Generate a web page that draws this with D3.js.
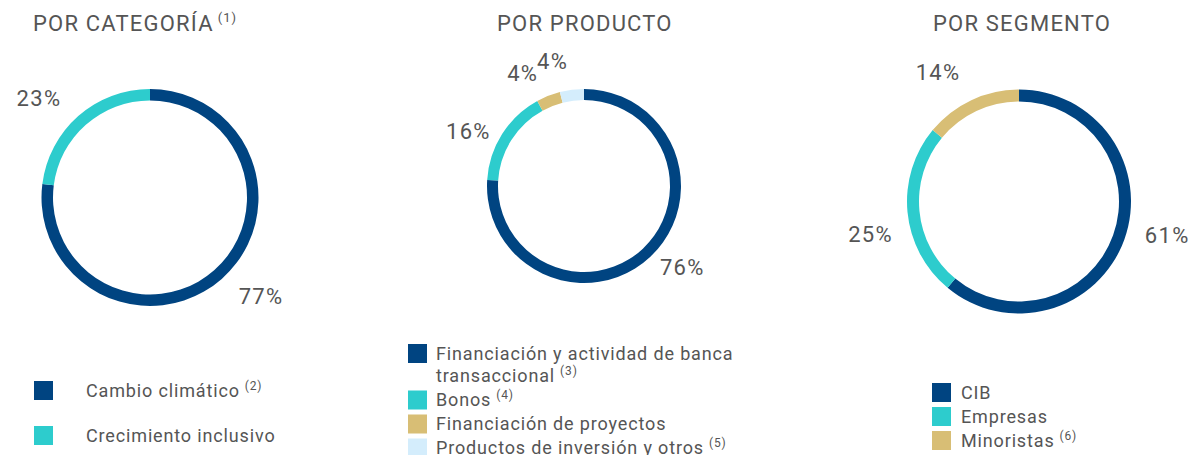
<!DOCTYPE html>
<html>
<head>
<meta charset="utf-8">
<script src="https://cdn.jsdelivr.net/npm/d3@7"></script>
<style>
  html, body { margin: 0; padding: 0; background: #fff; }
  svg { display: block; font-family: Roboto, "Noto Sans", sans-serif; }
</style>
</head>
<body>
<svg id="chart" width="1192" height="455"></svg>
<script>
// ---- data ----
const titles = ["POR CATEGORÍA", "POR PRODUCTO", "POR SEGMENTO"];
const titleNotes = ["(1)", "", ""];

const categoriaLabels = ["Cambio climático", "Crecimiento inclusivo"];
const categoriaNotes = ["(2)", ""];
const categoriaValues = [77, 23];

const productoLabels = ["Financiación y actividad de banca transaccional", "Bonos", "Financiación de proyectos", "Productos de inversión y otros"];
const productoNotes = ["(3)", "(4)", "", "(5)"];
const productoValues = [76, 16, 4, 4];

const segmentoLabels = ["CIB", "Empresas", "Minoristas"];
const segmentoNotes = ["", "", "(6)"];
const segmentoValues = [61, 25, 14];

const palette = ["#004481", "#2dcccd", "#d8be75", "#d4edfc"];

// ---- layout (not data) ----
const panels = [
  { labels: categoriaLabels, notes: categoriaNotes, values: categoriaValues,
    cx: 150, cy: 197.5, outer: 108.5, inner: 97, titleX: 33, labelGap: 40,
    legendX: 34, legendTextX: 86, legendY: 381, legendStep: 45 },
  { labels: productoLabels, notes: productoNotes, values: productoValues,
    cx: 584, cy: 186, outer: 97, inner: 86, titleX: 497, labelGap: 31,
    legendX: 408, legendTextX: 436, legendY: 344, legendStep: 24, wrap: 330 },
  { labels: segmentoLabels, notes: segmentoNotes, values: segmentoValues,
    cx: 1019, cy: 201.5, outer: 112, inner: 100, titleX: 933, labelGap: 40,
    legendX: 932, legendTextX: 961, legendY: 383, legendStep: 24 }
];

const textColor = "#555555";
const svg = d3.select("#chart");
const color = d3.scaleOrdinal().domain(d3.range(4)).range(palette);
const pie = d3.pie().sort(null).value(d => d);

panels.forEach((p, pi) => {
  const g = svg.append("g");

  // title
  const t = g.append("text")
    .attr("x", p.titleX).attr("y", 31)
    .attr("fill", textColor)
    .attr("font-size", 22)
    .attr("letter-spacing", 1.2)
    .text(titles[pi]);
  if (titleNotes[pi]) {
    t.append("tspan").attr("font-size", 13).attr("letter-spacing", 1).attr("dx", 4).attr("dy", -9).text(titleNotes[pi]);
  }

  // donut
  const arc = d3.arc().innerRadius(p.inner).outerRadius(p.outer);
  const arcs = pie(p.values);
  const dg = g.append("g").attr("transform", `translate(${p.cx},${p.cy})`);
  dg.selectAll("path").data(arcs).join("path")
    .attr("d", arc)
    .attr("fill", (d, i) => color(i));

  // percentage labels
  const offset = -7 * Math.PI / 180;
  const lr = p.outer + p.labelGap;
  dg.selectAll("text.pct").data(arcs).join("text")
    .attr("class", "pct")
    .attr("x", d => lr * Math.sin((d.startAngle + d.endAngle) / 2 + offset))
    .attr("y", d => -lr * Math.cos((d.startAngle + d.endAngle) / 2 + offset))
    .attr("text-anchor", "middle")
    .attr("dominant-baseline", "central")
    .attr("fill", textColor)
    .attr("font-size", 22)
    .attr("letter-spacing", 1.3)
    .text(d => d.data + "%");

  // legend
  const lg = g.append("g");
  let y = p.legendY;
  p.labels.forEach((lab, i) => {
    lg.append("rect")
      .attr("x", p.legendX).attr("y", y)
      .attr("width", 19).attr("height", 19)
      .attr("fill", color(i));
    const txt = lg.append("text")
      .attr("x", p.legendTextX).attr("y", y + 15.5)
      .attr("fill", textColor)
      .attr("font-size", 18)
      .attr("letter-spacing", 0.85);
    // simple word wrap
    let lines = [lab];
    if (p.wrap) {
      const words = lab.split(" ");
      lines = [];
      let cur = "";
      const probe = lg.append("text").attr("font-size", 18).attr("letter-spacing", 0.85);
      words.forEach(w => {
        const test = cur ? cur + " " + w : w;
        probe.text(test);
        if (probe.node().getComputedTextLength() > p.wrap && cur) {
          lines.push(cur); cur = w;
        } else cur = test;
      });
      lines.push(cur);
      probe.remove();
    }
    lines.forEach((ln, li) => {
      txt.append("tspan").attr("x", p.legendTextX).attr("dy", li === 0 ? 0 : 22.5).text(ln);
    });
    if (p.notes[i]) {
      txt.append("tspan").attr("font-size", 12).attr("dx", 5).attr("dy", -7).text(p.notes[i]);
    }
    y += p.legendStep + (lines.length - 1) * 22.5;
  });
});
</script>
</body>
</html>
